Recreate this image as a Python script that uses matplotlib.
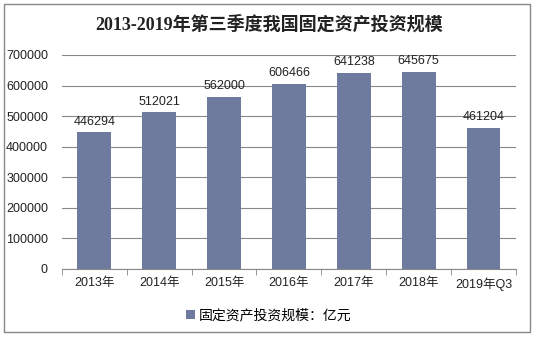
import matplotlib
matplotlib.use("Agg")
import matplotlib.pyplot as plt
from matplotlib.patches import Rectangle

plt.rcParams['font.family'] = ['Liberation Sans', 'Noto Sans CJK SC', 'DejaVu Sans']

# data
years = ['2013年', '2014年', '2015年', '2016年', '2017年', '2018年', '2019年Q3']
values = [446294, 512021, 562000, 606466, 641238, 645675, 461204]
series_name = '固定资产投资规模：亿元'

bar_color = '#6F7A9F'

fig = plt.figure(figsize=(5.38, 3.37), dpi=100)
ax = fig.add_axes([0.115, 0.202, 0.844, 0.635])

x = list(range(len(years)))
bars = ax.bar(x, values, width=0.52, color=bar_color, label=series_name, zorder=3)

# value labels on top
for xi, v in zip(x, values):
    ax.text(xi, v + 16000, str(v), ha='center', va='bottom', fontsize=9, color='#222222')

ax.set_xlim(-0.5, len(years) - 0.5)
ax.set_ylim(0, 700000)
ax.set_yticks(range(0, 700001, 100000))
ax.set_yticklabels([str(t) for t in range(0, 700001, 100000)], fontsize=9, color='#222222')
ax.yaxis.grid(True, color='#888888', linewidth=0.8, zorder=0)
ax.tick_params(axis='y', length=0, pad=10)

# x ticks at category boundaries
ax.set_xticks(x)
ax.set_xticklabels(years, fontsize=9, color='#222222')
ax.tick_params(axis='x', length=0, pad=6)
ax.set_xticks([i - 0.5 for i in range(len(years) + 1)], minor=True)
ax.tick_params(axis='x', which='minor', length=4, color='#888888', direction='out')

for s in ['top', 'right', 'left']:
    ax.spines[s].set_visible(False)
ax.spines['bottom'].set_color('#888888')

fig.suptitle('2013-2019年第三季度我国固定资产投资规模', x=0.5, y=0.955,
             fontsize=13, fontweight='bold', color='#222222',
             family=['Liberation Serif', 'Noto Sans CJK SC'])

fig.legend(handles=[bars], labels=[series_name], loc='center', bbox_to_anchor=(0.5, 0.065),
           frameon=False, fontsize=10, handlelength=0.6, handleheight=0.6, handletextpad=0.3)

# outer border
fig.patches.append(Rectangle((0.008, 0.015), 0.978, 0.972, transform=fig.transFigure,
                             fill=False, edgecolor='#888888', linewidth=1))

fig.savefig('out.png', dpi=100)
